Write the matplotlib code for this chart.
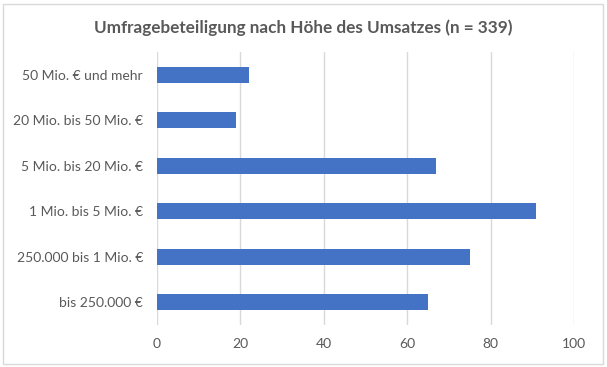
import matplotlib
matplotlib.use("Agg")
import matplotlib.pyplot as plt
from matplotlib.patches import Rectangle

categories = ["bis 250.000 €", "250.000 bis 1 Mio. €", "1 Mio. bis 5 Mio. €",
              "5 Mio. bis 20 Mio. €", "20 Mio. bis 50 Mio. €", "50 Mio. € und mehr"]
values = [65, 75, 91, 67, 19, 22]
xticks = [0, 20, 40, 60, 80, 100]
title = "Umfragebeteiligung nach Höhe des Umsatzes (n = 339)"

plt.rcParams['font.family'] = ['Lato', 'DejaVu Sans']
txt = "#595959"

fig = plt.figure(figsize=(6.07, 3.67), dpi=100)
ax = fig.add_axes([157/607, 1-325/367, (574-157)/607, (325-52)/367])
ax.barh(range(len(categories)), values, height=0.36, color="#4472C4", zorder=3)
ax.set_ylim(-0.5, len(categories)-0.5)
ax.set_xlim(0, 100)
ax.set_xticks(xticks)
ax.set_yticks(range(len(categories)))
ax.set_yticklabels(categories)
ax.grid(axis='x', color="#D9D9D9", linewidth=1, zorder=0)
for s in ax.spines.values():
    s.set_visible(False)
ax.tick_params(axis='both', length=0, colors=txt, labelsize=10)
ax.tick_params(axis='y', pad=10)
ax.tick_params(axis='x', pad=9)
fig.text(0.5, 1-28/367, title, ha='center', va='center', fontsize=12.3,
         fontweight='bold', color=txt)
fig.patches.append(Rectangle((3/607, 3/367), 600/607, 360/367, transform=fig.transFigure,
                             fill=False, edgecolor="#D9D9D9", linewidth=1))
fig.savefig("out.png", dpi=100)
